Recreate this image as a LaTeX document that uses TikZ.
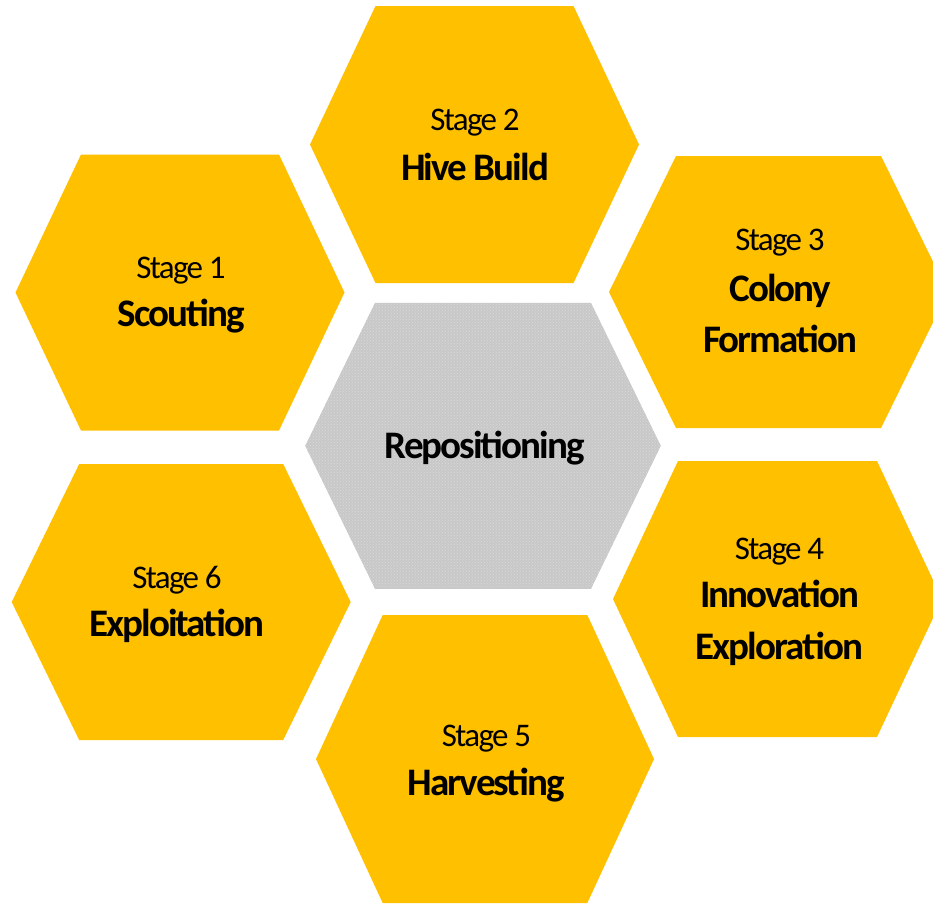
\documentclass[tikz,border=0pt]{standalone}
\usepackage{fontspec}
\setmainfont{Carlito}[LetterSpace=-5]
\usetikzlibrary{patterns}
\definecolor{honey}{RGB}{255,192,0}
\definecolor{cellgray}{RGB}{200,200,200}
\definecolor{celldots}{RGB}{218,218,218}
% hexagon: centre x, centre y, half width, half top edge, half height, style
\newcommand\hexcell[6]{%
  \fill[#6] (#1-#3,#2) -- (#1-#4,#2-#5) -- (#1+#4,#2-#5) -- (#1+#3,#2)
     -- (#1+#4,#2+#5) -- (#1-#4,#2+#5) -- cycle;}
\tikzset{
  stagelbl/.style={anchor=base, inner sep=0pt, font=\fontsize{33}{36}\selectfont},
  namelbl/.style={anchor=base, inner sep=0pt, font=\fontsize{39}{44}\selectfont\bfseries},
}
\begin{document}
\begin{tikzpicture}[x=1pt,y=-1pt]
  \useasboundingbox (0,0) rectangle (933,903);
  \begin{scope}
    \clip (0,0) rectangle (933,903);
    \hexcell{180}{292.5}{164.5}{99}{138}{honey}
    \hexcell{474.5}{144.5}{164.5}{99}{138.5}{honey}
    \hexcell{778.5}{292}{169.5}{102.5}{136}{honey}
    \hexcell{777.5}{599}{164.5}{99.5}{138}{honey}
    \hexcell{485}{759}{169}{102.3}{144}{honey}
    \hexcell{181.2}{602}{169.5}{102}{138}{honey}
    \hexcell{483}{445.8}{177.8}{108}{143}{cellgray}
    \hexcell{483}{445.8}{177.8}{108}{143}{pattern=crosshatch dots, pattern color=celldots}
  \end{scope}

  % stage 1
  \node[stagelbl] (s1) at (181,278.3) {Stage 1};
  \node[namelbl] (n1) at (181,326.7) {Scouting};
  % stage 2
  \node[stagelbl] (s2) at (475,130.7) {Stage 2};
  \node[namelbl] (n2) at (475,180) {Hive Build};
  % stage 3
  \node[stagelbl] (s3) at (780,250) {Stage 3};
  \node[namelbl] (n3a) at (780,301.7) {Colony};
  \node[namelbl] (n3b) at (780,352) {Formation};
  % stage 4
  \node[stagelbl] (s4) at (779.5,559.3) {Stage 4};
  \node[namelbl] (n4a) at (779.5,607.3) {Innovation};
  \node[namelbl] (n4b) at (779.5,659.5) {Exploration};
  % stage 5
  \node[stagelbl] (s5) at (486.5,746) {Stage 5};
  \node[namelbl] (n5) at (486.5,795) {Harvesting};
  % stage 6
  \node[stagelbl] (s6) at (177,588.3) {Stage 6};
  \node[namelbl] (n6) at (177,636.7) {Exploitation};
  % centre
  \node[namelbl] (rep) at (484.7,458.3) {Repositioning};
\end{tikzpicture}
\end{document}
